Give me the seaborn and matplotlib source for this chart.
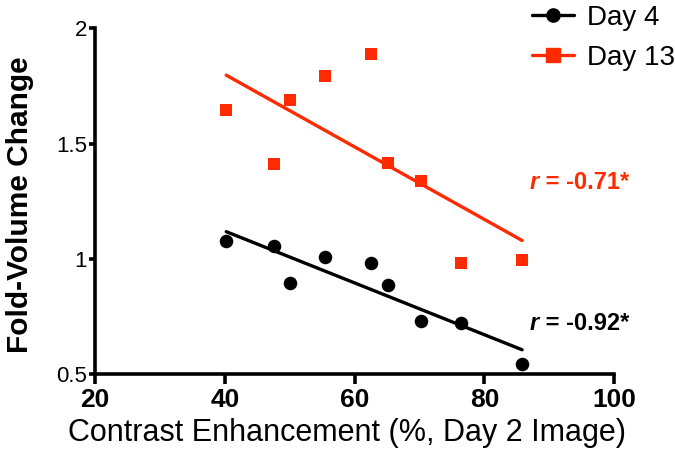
import matplotlib
matplotlib.use("Agg")
import matplotlib.pyplot as plt
from matplotlib.lines import Line2D
import seaborn as sns
import pandas as pd

# values
contrast = [40.2, 47.5, 50.1, 55.4, 62.5, 65.2, 70.2, 76.4, 85.8]
day4 = [1.078, 1.056, 0.896, 1.010, 0.984, 0.888, 0.732, 0.722, 0.544]
day13 = [1.644, 1.413, 1.691, 1.792, 1.887, 1.416, 1.338, 0.984, 0.997]
series_names = ["Day 4", "Day 13"]
r_labels = ["-0.92*", "-0.71*"]
x_ticks = [20, 40, 60, 80, 100]
y_ticks = [0.5, 1, 1.5, 2]
y_ticklabels = ["0.5", "1", "1.5", "2"]

BLACK = "#000000"
RED = "#FF2A00"

sns.set_style("ticks")
plt.rcParams["font.family"] = ["Liberation Sans", "DejaVu Sans"]
for key in ["text.color", "axes.labelcolor", "xtick.color", "ytick.color", "axes.edgecolor"]:
    plt.rcParams[key] = BLACK

df = pd.DataFrame({"contrast": contrast, "Day 4": day4, "Day 13": day13})

fig = plt.figure(figsize=(6.75, 4.59), dpi=100)
ax = fig.add_axes([0.141, 0.185, 0.769, 0.753])

styles = [(BLACK, "o", 95), (RED, "s", 85)]
for name, (color, marker, size) in zip(series_names, styles):
    sns.regplot(data=df, x="contrast", y=name, ax=ax, ci=None, color=color,
                marker=marker,
                scatter_kws={"s": size, "linewidths": 0, "alpha": 1, "zorder": 3},
                line_kws={"linewidth": 2.4, "zorder": 2})

# correlation labels
label_pos = [(87.0, 0.72), (87.0, 1.333)]
for (lx, ly), r, color in zip(label_pos, r_labels, [BLACK, RED]):
    t = ax.text(lx, ly, "r", style="italic", fontweight="bold", fontsize=17,
                color=color, va="center", ha="left")
    ax.annotate(" = " + r, xy=(1, 0.5), xycoords=t, va="center", ha="left",
                fontweight="bold", fontsize=17, color=color)

ax.set_xlim(20, 100)
ax.set_ylim(0.5, 2)
ax.set_xticks(x_ticks)
ax.set_yticks(y_ticks)
ax.set_yticklabels(y_ticklabels)
ax.tick_params(axis="x", labelsize=19, width=2.6, length=7, direction="out", pad=3)
ax.tick_params(axis="y", labelsize=16, width=2.6, length=4, direction="out", pad=2)
for lab in ax.get_xticklabels():
    lab.set_fontweight("bold")
for side in ["left", "bottom"]:
    ax.spines[side].set_linewidth(2.6)
sns.despine(ax=ax)

ax.set_xlabel("Contrast Enhancement (%, Day 2 Image)", fontsize=22, labelpad=4)
ax.xaxis.label.set_x(0.485)
ax.set_ylabel("Fold-Volume Change", fontsize=21.5, fontweight="bold", labelpad=16)
ax.yaxis.label.set_y(0.49)

handles = [Line2D([], [], color=c, marker=m, markersize=9.5, linewidth=2.4)
           for c, m, _ in styles]
ax.legend(handles, series_names, loc="upper left", bbox_to_anchor=(0.82, 1.1),
          frameon=False, fontsize=20, handlelength=1.5, handletextpad=0.5,
          labelspacing=0.5, borderaxespad=0)

fig.savefig("out.png", dpi=100)
